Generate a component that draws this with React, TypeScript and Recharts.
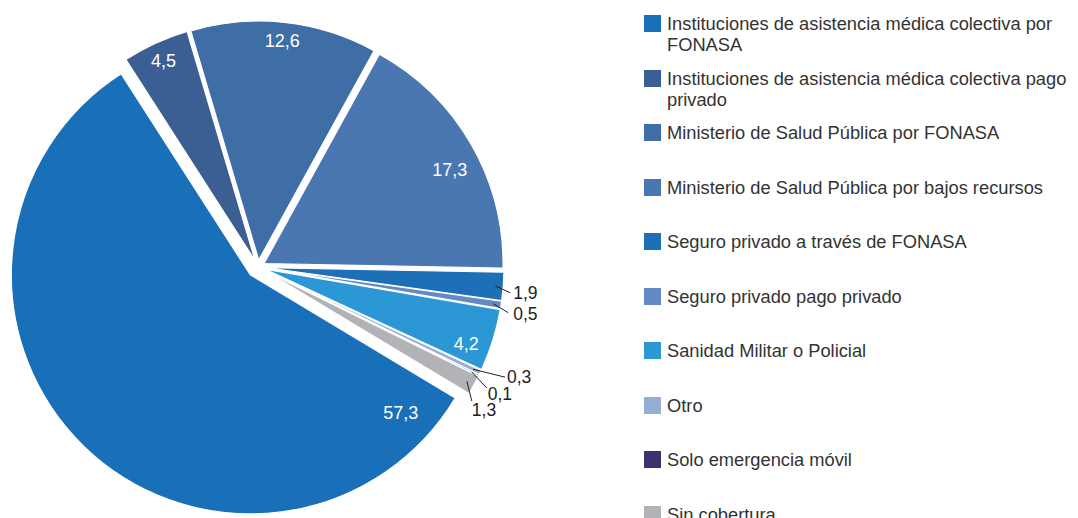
import React from 'react';
import { PieChart, Pie, Cell, Legend, Sector } from 'recharts';

const categories = [
  'Instituciones de asistencia médica colectiva por FONASA',
  'Instituciones de asistencia médica colectiva pago privado',
  'Ministerio de Salud Pública por FONASA',
  'Ministerio de Salud Pública por bajos recursos',
  'Seguro privado a través de FONASA',
  'Seguro privado pago privado',
  'Sanidad Militar o Policial',
  'Otro',
  'Solo emergencia móvil',
  'Sin cobertura',
];
const values = [57.3, 4.5, 12.6, 17.3, 1.9, 0.5, 4.2, 0.3, 0.1, 1.3];
const colors = [
  '#1a6fb9', '#3c5f93', '#3e6ea5', '#4a76b1', '#1d6fb8',
  '#6589c5', '#2b97d5', '#95aed6', '#3a336f', '#b1b3b6',
];

const data = categories.map((name, i) => ({ name, value: values[i] }));

const FONT = '"Liberation Sans", Arial, sans-serif';
const RAD = Math.PI / 180;
const R = 239;
// inside labels: angle shift from the slice middle, distance in from the rim
const insideLabels: Record<number, [number, number]> = {
  1: [0, 19],
  2: [0, 19],
  3: [-3.3, 31],
  6: [-3, 24],
};
// leader line dx, dy and text dx, dy for the small slices
const outsideNudge: Record<number, [number, number, number, number]> = {
  4: [15, 7, 3, 0],
  5: [15, 9, 5, 1],
  7: [32, 8, 2, 0],
  8: [15, 16, 1, 6],
  9: [5, 20, 0, 9],
};

const explodeFor = (i: number) => (i === 0 ? 11 : 7);
const fmt = (v: number) => v.toFixed(1).replace('.', ',');

const polar = (cx: number, cy: number, r: number, angle: number) => ({
  x: cx + r * Math.cos(-angle * RAD),
  y: cy + r * Math.sin(-angle * RAD),
});

const renderSlice = (props: any) => {
  const i = categories.indexOf(props.payload?.name ?? props.name);
  const off = explodeFor(i);
  const p = polar(0, 0, off, props.midAngle);
  return (
    <Sector
      {...props}
      cx={props.cx + p.x}
      cy={props.cy + p.y}
      stroke="#fff"
      strokeWidth={1.2}
    />
  );
};

const renderLabel = (props: any) => {
  const { cx, cy, midAngle, startAngle, endAngle, index, value } = props;
  const off = explodeFor(index);
  const shift = polar(0, 0, off, midAngle);
  const ox = cx + shift.x;
  const oy = cy + shift.y;
  if (index === 0 || insideLabels[index]) {
    let angle: number;
    let r: number;
    if (index === 0) {
      angle = startAngle - (startAngle - endAngle) * 0.056;
      r = R * 0.855;
    } else {
      angle = midAngle + insideLabels[index][0];
      r = R - insideLabels[index][1];
    }
    const p = polar(ox, oy, r, angle);
    return (
      <text x={p.x} y={p.y} fill="#fff" fontSize={18} fontFamily={FONT}
        textAnchor="middle" dominantBaseline="central">
        {fmt(value)}
      </text>
    );
  }
  const n = outsideNudge[index];
  const s = polar(ox, oy, R - 8, midAngle);
  const e = { x: s.x + n[0], y: s.y + n[1] };
  return (
    <g>
      <line x1={s.x} y1={s.y} x2={e.x} y2={e.y} stroke="#222" strokeWidth={1} />
      <text x={e.x + n[2]} y={e.y + n[3]} fill="#222" fontSize={17.5} fontFamily={FONT}
        textAnchor="start" dominantBaseline="central">
        {fmt(value)}
      </text>
    </g>
  );
};

const renderLegend = () => (
  <div style={{ fontFamily: FONT, fontSize: 18.3, color: '#333' }}>
    {categories.map((name, i) => (
      <div key={name} style={{ height: 54.5, display: 'flex', alignItems: 'flex-start' }}>
        <span style={{ width: 17, height: 17, background: colors[i], marginTop: 2, flexShrink: 0 }} />
        <span style={{ marginLeft: 6, lineHeight: '21px', maxWidth: 420 }}>{name}</span>
      </div>
    ))}
  </div>
);

export default function App() {
  return (
    <PieChart width={1070} height={510} margin={{ top: 0, right: 0, bottom: 0, left: 0 }}>
      <Pie
        data={data}
        dataKey="value"
        nameKey="name"
        cx={250}
        cy={259}
        outerRadius={R}
        startAngle={-31}
        endAngle={-391}
        stroke="#fff"
        strokeWidth={1.2}
        shape={renderSlice}
        label={renderLabel}
        labelLine={false}
        isAnimationActive={false}
      >
        {data.map((d, i) => (
          <Cell key={d.name} fill={colors[i]} />
        ))}
      </Pie>
      <Legend
        layout="vertical"
        align="right"
        verticalAlign="top"
        content={renderLegend}
        wrapperStyle={{ left: 636, top: 5, width: 445 }}
      />
    </PieChart>
  );
}
